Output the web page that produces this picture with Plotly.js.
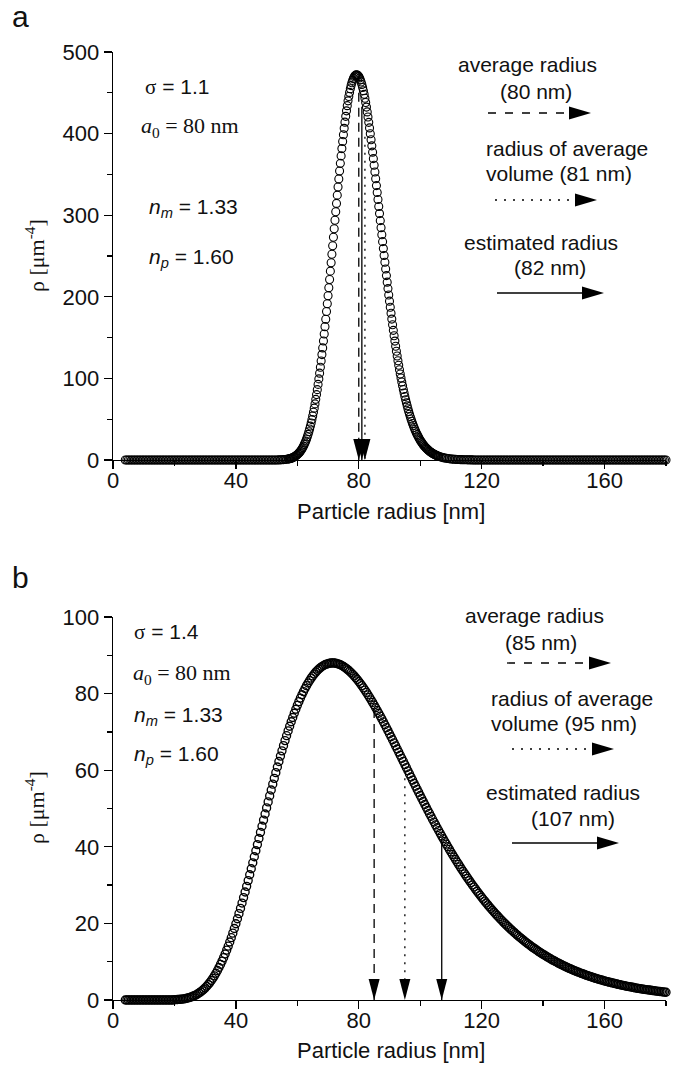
<!DOCTYPE html>
<html><head><meta charset="utf-8">
<script src="https://cdn.plot.ly/plotly-3.0.1.min.js"></script>
<style>html,body{margin:0;padding:0;background:#fff}#chart{width:677px;height:1068px}</style>
</head><body><div id="chart"></div>
<script>
// ---------- panel a (sigma = 1.1) ----------
const topRadius = [
4,4.5,5,5.5,6,6.5,7,7.5,8,8.5, 9,9.5,10,10.5,11,11.5,12,12.5,13,13.5,
14,14.5,15,15.5,16,16.5,17,17.5,18,18.5, 19,19.5,20,20.5,21,21.5,22,22.5,23,23.5,
24,24.5,25,25.5,26,26.5,27,27.5,28,28.5, 29,29.5,30,30.5,31,31.5,32,32.5,33,33.5,
34,34.5,35,35.5,36,36.5,37,37.5,38,38.5, 39,39.5,40,40.5,41,41.5,42,42.5,43,43.5,
44,44.5,45,45.5,46,46.5,47,47.5,48,48.5, 49,49.5,50,50.5,51,51.5,52,52.5,53,53.5,
54,54.5,55,55.5,56,56.5,
57,57.25,57.5,57.75,58,58.25,58.5,58.75, 59,59.25,59.5,59.75,60,60.25,60.5,60.75,
61,61.25,61.5,61.75,62,62.25,62.5,62.75, 63,63.25,63.5,63.75,64,64.25,64.5,64.75,
65,65.25,65.5,65.75,66,66.25,66.5,66.75, 67,67.25,67.5,67.75,68,68.25,68.5,68.75,
69,69.25,69.5,69.75,70,70.25,70.5,70.75, 71,71.25,71.5,71.75,72,72.25,72.5,72.75,
73,73.25,73.5,73.75,74,74.25,74.5,74.75, 75,75.25,75.5,75.75,76,76.25,76.5,76.75,
77,77.25,77.5,77.75,78,78.25,78.5,78.75, 79,79.25,79.5,79.75,80,80.25,80.5,80.75,
81,81.25,81.5,81.75,82,82.25,82.5,82.75, 83,83.25,83.5,83.75,84,84.25,84.5,84.75,
85,85.25,85.5,85.75,86,86.25,86.5,86.75, 87,87.25,87.5,87.75,88,88.25,88.5,88.75,
89,89.25,89.5,89.75,90,90.25,90.5,90.75, 91,91.25,91.5,91.75,92,92.25,92.5,92.75,
93,93.25,93.5,93.75,94,94.25,94.5,94.75, 95,95.25,95.5,95.75,96,96.25,96.5,96.75,
97,97.25,97.5,97.75,98,98.25,98.5,98.75, 99,99.25,99.5,99.75,100,100.25,100.5,100.75,
101,101.25,101.5,101.75,102,102.25,102.5,102.75, 103,103.25,103.5,103.75,104,104.25,104.5,104.75,
105,105.25,105.5,105.75,106,
106.5,107,107.5,108,108.5,109,109.5,110,110.5,111, 111.5,112,112.5,113,113.5,114,114.5,115,115.5,116,
116.5,117,117.5,118,118.5,119,119.5,120,120.5,121, 121.5,122,122.5,123,123.5,124,124.5,125,125.5,126,
126.5,127,127.5,128,128.5,129,129.5,130,130.5,131, 131.5,132,132.5,133,133.5,134,134.5,135,135.5,136,
136.5,137,137.5,138,138.5,139,139.5,140,140.5,141, 141.5,142,142.5,143,143.5,144,144.5,145,145.5,146,
146.5,147,147.5,148,148.5,149,149.5,150,150.5,151, 151.5,152,152.5,153,153.5,154,154.5,155,155.5,156,
156.5,157,157.5,158,158.5,159,159.5,160,160.5,161, 161.5,162,162.5,163,163.5,164,164.5,165,165.5,166,
166.5,167,167.5,168,168.5,169,169.5,170,170.5,171, 171.5,172,172.5,173,173.5,174,174.5,175,175.5,176,
176.5,177,177.5,178,178.5,179,179.5,180
];
const topRho = [
0,0,0,0,0,0,0,0,0,0, 0,0,0,0,0,0,0,0,0,0,
0,0,0,0,0,0,0,0,0,0, 0,0,0,0,0,0,0,0,0,0,
0,0,0,0,0,0,0,0,0,0, 0,0,0,0,0,0,0,0,0,0,
0,0,0,0,0,0,0,0,0,0, 0,0,0,0,0,0,0,0,0,0,
0,0,0,0,0,0,0,0,0,0, 0,0,0.01,0.01,0.01,0.02,0.03,0.04,0.06,0.09,
0.14,0.21,0.30,0.43,0.61,0.85,
1.18,1.38,1.62,1.88,2.19,2.53,2.93,3.37, 3.87,4.44,5.08,5.79,6.59,7.48,8.47,9.56,
10.77,12.11,13.58,15.20,16.97,18.91,21.02,23.31, 25.80,28.50,31.41,34.54,37.91,41.52,45.38,49.51,
53.91,58.58,63.53,68.76,74.30,80.12,86.24,92.66, 99.39,106.41,113.71,121.31,129.19,137.36,145.78,154.45,
163.40,172.55,181.94,191.50,201.28,211.20,221.27,231.45, 241.74,252.11,262.53,272.95,283.41,293.79,304.17,314.44,
324.60,334.61,344.46,354.10,363.54,372.70,381.64,390.25, 398.53,406.46,414.01,421.15,427.89,434.23,440.11,445.52,
450.46,454.89,458.85,462.28,465.20,467.61,469.49,470.85, 471.68,472.00,471.79,471.08,469.86,468.15,465.94,463.27,
460.13,456.55,452.54,448.11,443.27,438.06,432.49,426.57, 420.33,413.78,406.96,399.86,392.54,384.99,377.24,369.32,
361.24,353.02,344.69,336.26,327.76,319.19,310.59,301.97, 293.33,284.72,276.13,267.58,259.09,250.67,242.33,234.09,
225.96,217.93,210.03,202.27,194.64,187.17,179.84,172.68, 165.69,158.87,152.21,145.74,139.44,133.32,127.38,121.63,
116.06,110.66,105.45,100.42,95.57,90.89,86.38,82.05, 77.89,73.89,70.05,66.37,62.85,59.47,56.25,53.17,
50.22,47.41,44.74,42.19,39.76,37.45,35.26,33.17, 31.19,29.32,27.54,25.86,24.26,22.75,21.33,19.98,
18.71,17.51,16.38,15.32,14.31,13.37,12.48,11.65, 10.86,10.13,9.43,8.79,8.18,7.61,7.08,6.58,
6.12,5.68,5.27,4.89,4.54,
3.90,3.35,2.86,2.45,2.09,1.78,1.52,1.29,1.09,0.92, 0.78,0.66,0.56,0.47,0.40,0.33,0.28,0.23,0.19,0.16,
0.13,0.11,0.09,0.08,0.06,0.05,0.04,0.04,0.03,0.03, 0.02,0.02,0.02,0.01,0.01,0.01,0.01,0,0,0,
0,0,0,0,0,0,0,0,0,0, 0,0,0,0,0,0,0,0,0,0,
0,0,0,0,0,0,0,0,0,0, 0,0,0,0,0,0,0,0,0,0,
0,0,0,0,0,0,0,0,0,0, 0,0,0,0,0,0,0,0,0,0,
0,0,0,0,0,0,0,0,0,0, 0,0,0,0,0,0,0,0,0,0,
0,0,0,0,0,0,0,0,0,0, 0,0,0,0,0,0,0,0,0,0,
0,0,0,0,0,0,0,0
];
// reference radii drawn as vertical arrows and the height where each arrow starts
const topRefRadius = [80, 81, 82];
const topRefRho = [450, 433, 396];

// ---------- panel b (sigma = 1.4) ----------
const bottomRadius = [
4,4.5,5,5.5,6,6.5,7,7.5,8,8.5, 9,9.5,10,10.5,11,11.5,12,12.5,13,13.5,
14,14.5,15,15.5,16,16.5,17,17.5,18,18.5, 19,19.5,20,20.5,21,21.5,22,22.5,23,23.5,
24,24.5,25,25.5,26,26.5,27,27.5,28,28.5, 29,29.5,30,30.5,31,31.5,32,32.5,33,33.5,
34,34.5,35,35.5,36,36.5,37,37.5,38,38.5, 39,39.5,40,40.5,41,41.5,42,42.5,43,43.5,
44,44.5,45,45.5,46,46.5,47,47.5,48,48.5, 49,49.5,50,50.5,51,51.5,52,52.5,53,53.5,
54,54.5,55,55.5,56,56.5,57,57.5,58,58.5, 59,59.5,60,60.5,61,61.5,62,62.5,63,63.5,
64,64.5,65,65.5,66,66.5,67,67.5,68,68.5, 69,69.5,70,70.5,71,71.5,72,72.5,73,73.5,
74,74.5,75,75.5,76,76.5,77,77.5,78,78.5, 79,79.5,80,80.5,81,81.5,82,82.5,83,83.5,
84,84.5,85,85.5,86,86.5,87,87.5,88,88.5, 89,89.5,90,90.5,91,91.5,92,92.5,93,93.5,
94,94.5,95,95.5,96,96.5,97,97.5,98,98.5, 99,99.5,100,100.5,101,101.5,102,102.5,103,103.5,
104,104.5,105,105.5,106,106.5,107,107.5,108,108.5, 109,109.5,110,110.5,111,111.5,112,112.5,113,113.5,
114,114.5,115,115.5,116,116.5,117,117.5,118,118.5, 119,119.5,120,120.5,121,121.5,122,122.5,123,123.5,
124,124.5,125,125.5,126,126.5,127,127.5,128,128.5, 129,129.5,130,130.5,131,131.5,132,132.5,133,133.5,
134,134.5,135,135.5,136,136.5,137,137.5,138,138.5, 139,139.5,140,140.5,141,141.5,142,142.5,143,143.5,
144,144.5,145,145.5,146,146.5,147,147.5,148,148.5, 149,149.5,150,150.5,151,151.5,152,152.5,153,153.5,
154,154.5,155,155.5,156,156.5,157,157.5,158,158.5, 159,159.5,160,160.5,161,161.5,162,162.5,163,163.5,
164,164.5,165,165.5,166,166.5,167,167.5,168,168.5, 169,169.5,170,170.5,171,171.5,172,172.5,173,173.5,
174,174.5,175,175.5,176,176.5,177,177.5,178,178.5, 179,179.5,180
];
const bottomRho = [
0,0,0,0,0,0,0,0,0,0, 0,0,0,0,0,0,0,0,0,0,
0,0,0,0,0,0,0,0,0,0, 0,0,0.07,0.09,0.12,0.15,0.19,0.24,0.30,0.37,
0.46,0.56,0.68,0.81,0.97,1.14,1.34,1.57,1.83,2.11, 2.43,2.78,3.17,3.59,4.05,4.55,5.10,5.68,6.31,6.99,
7.71,8.48,9.29,10.15,11.06,12.01,13.01,14.05,15.14,16.27, 17.45,18.66,19.92,21.22,22.55,23.91,25.31,26.74,28.20,29.68,
31.18,32.71,34.26,35.82,37.39,38.98,40.57,42.17,43.77,45.37, 46.97,48.56,50.15,51.72,53.29,54.83,56.36,57.87,59.36,60.83,
62.27,63.68,65.06,66.41,67.73,69.01,70.26,71.47,72.64,73.77, 74.86,75.92,76.93,77.89,78.82,79.69,80.53,81.32,82.07,82.77,
83.42,84.03,84.60,85.12,85.60,86.03,86.41,86.76,87.06,87.32, 87.53,87.71,87.84,87.93,87.99,88.00,87.98,87.92,87.82,87.69,
87.52,87.32,87.09,86.82,86.52,86.20,85.84,85.46,85.05,84.62, 84.15,83.67,83.16,82.63,82.08,81.51,80.92,80.31,79.68,79.03,
78.37,77.70,77.01,76.31,75.59,74.87,74.13,73.39,72.63,71.87, 71.10,70.32,69.53,68.74,67.94,67.14,66.34,65.53,64.72,63.91,
63.10,62.29,61.47,60.66,59.84,59.03,58.22,57.41,56.60,55.80, 54.99,54.20,53.40,52.61,51.82,51.04,50.26,49.49,48.72,47.96,
47.21,46.46,45.71,44.97,44.24,43.52,42.80,42.09,41.39,40.69, 40.01,39.32,38.65,37.99,37.33,36.68,36.03,35.40,34.77,34.15,
33.54,32.94,32.34,31.75,31.18,30.60,30.04,29.49,28.94,28.40, 27.87,27.34,26.83,26.32,25.82,25.33,24.84,24.36,23.89,23.43,
22.98,22.53,22.09,21.66,21.23,20.81,20.40,20.00,19.60,19.21, 18.82,18.45,18.07,17.71,17.35,17.00,16.66,16.32,15.98,15.66,
15.34,15.02,14.71,14.41,14.11,13.82,13.53,13.25,12.98,12.70, 12.44,12.18,11.92,11.67,11.43,11.18,10.95,10.72,10.49,10.27,
10.05,9.84,9.63,9.42,9.22,9.02,8.83,8.64,8.45,8.27, 8.09,7.92,7.75,7.58,7.42,7.26,7.10,6.94,6.79,6.65,
6.50,6.36,6.22,6.09,5.95,5.82,5.69,5.57,5.45,5.33, 5.21,5.10,4.98,4.87,4.77,4.66,4.56,4.46,4.36,4.26,
4.17,4.08,3.99,3.90,3.81,3.73,3.64,3.56,3.48,3.41, 3.33,3.26,3.18,3.11,3.04,2.98,2.91,2.85,2.78,2.72,
2.66,2.60,2.54,2.48,2.43,2.37,2.32,2.27,2.22,2.17, 2.12,2.07,2.03
];
const bottomRefRadius = [85, 95, 107];
const bottomRefRho = [76, 60, 42];

// ---------- ticks ----------
const xTicks = [0, 40, 80, 120, 160];
const xMinorTicks = [20, 60, 100, 140, 180];
const topYTicks = [0, 100, 200, 300, 400, 500];
const topYMinor = [50, 150, 250, 350, 450];
const bottomYTicks = [0, 20, 40, 60, 80, 100];
const bottomYMinor = [10, 30, 50, 70, 90];

// ---------- layout helpers ----------
const W = 677, H = 1068;
const PX = v => v / W, PY = v => 1 - v / H;
const SANS = 'Liberation Sans, Arial, Helvetica, sans-serif';
const SERIF = 'Liberation Serif, Times New Roman, serif';
const INK = '#111';
const DASHED = '9px,6px', DOTTED = '2px,6px';
const topRefDash = [DASHED, 'solid', DOTTED];
const bottomRefDash = [DASHED, DOTTED, 'solid'];

const topMarker = {symbol: 'circle-open', size: 8, color: '#000', line: {width: 1.1, color: '#000'}};
const bottomMarker = {symbol: 'circle-open', size: 8, color: '#000', line: {width: 1.35, color: '#000'}};
const traces = [
  {x: topRadius, y: topRho, xaxis: 'x', yaxis: 'y', mode: 'markers', marker: topMarker, cliponaxis: false, hoverinfo: 'skip'},
  {x: bottomRadius, y: bottomRho, xaxis: 'x2', yaxis: 'y2', mode: 'markers', marker: bottomMarker, cliponaxis: false, hoverinfo: 'skip'}
];
const shapes = [];
function vArrow(xa, ya, r, top, dash) {
  traces.push({x: [r, r], y: [top, 0], xaxis: xa, yaxis: ya, mode: 'lines',
    line: {color: '#000', width: 1.3, dash: dash}, hoverinfo: 'skip', cliponaxis: false});
  shapes.push({type: 'path', xref: xa, yref: ya, xsizemode: 'pixel', ysizemode: 'pixel',
    xanchor: r, yanchor: 0, path: 'M 0 0 L -5.5 21 L 5.5 21 Z',
    fillcolor: '#000', line: {width: 0}, layer: 'above'});
}
topRefRadius.forEach((r, i) => vArrow('x', 'y', r, topRefRho[i], topRefDash[i]));
bottomRefRadius.forEach((r, i) => vArrow('x2', 'y2', r, bottomRefRho[i], bottomRefDash[i]));

function hArrow(x0, x1, xTip, y, dash) {
  shapes.push({type: 'line', xref: 'paper', yref: 'paper', x0: PX(x0), x1: PX(x1), y0: PY(y), y1: PY(y),
    line: {color: '#000', width: 1.3, dash: dash}});
  shapes.push({type: 'path', xref: 'paper', yref: 'paper',
    path: `M ${PX(x1)} ${PY(y - 6.5)} L ${PX(xTip)} ${PY(y)} L ${PX(x1)} ${PY(y + 6.5)} Z`,
    fillcolor: '#000', line: {width: 0}});
}
hArrow(488, 569, 591, 113, '8px,9px');
hArrow(495, 575, 597, 200, '2px,7px');
hArrow(497, 582, 604, 293, 'solid');
hArrow(507, 589, 611, 663, '8px,9px');
hArrow(512, 592, 614, 749, '2px,7px');
hArrow(512, 597, 619, 843, 'solid');

const ann = [];
function txt(text, x, y, opts) {
  ann.push(Object.assign({text: text, x: PX(x), y: PY(y), xref: 'paper', yref: 'paper',
    xanchor: 'center', yanchor: 'middle', showarrow: false,
    font: {family: SANS, size: 21, color: INK}}, opts || {}));
}
const sig = s => `<span style="font-family:Liberation Serif">σ</span> = ${s}`;
// panel labels
txt('a', 20, 17, {font: {family: SANS, size: 30, color: INK}});
txt('b', 20, 577, {font: {family: SANS, size: 30, color: INK}});
// panel a texts
txt(sig('1.1'), 143, 87, {xanchor: 'left'});
txt('<i>a</i><sub>0</sub> = 80 nm', 139, 127, {xanchor: 'left', font: {family: SERIF, size: 22, color: INK}});
txt('<i>n<sub>m</sub></i> = 1.33', 147, 208, {xanchor: 'left'});
txt('<i>n<sub>p</sub></i> = 1.60', 147, 258, {xanchor: 'left'});
txt('average radius', 527, 65);
txt('(80 nm)', 536, 91);
txt('radius of average', 484, 148, {xanchor: 'left'});
txt('volume (81 nm)', 484, 173, {xanchor: 'left'});
txt('estimated radius', 541, 243);
txt('(82 nm)', 550, 268);
// panel b texts
txt(sig('1.4'), 132, 632, {xanchor: 'left'});
txt('<i>a</i><sub>0</sub> = 80 nm', 131, 674, {xanchor: 'left', font: {family: SERIF, size: 22, color: INK}});
txt('<i>n<sub>m</sub></i> = 1.33', 132, 716, {xanchor: 'left'});
txt('<i>n<sub>p</sub></i> = 1.60', 132, 755, {xanchor: 'left'});
txt('average radius', 534, 615);
txt('(85 nm)', 541, 642);
txt('radius of average', 489, 698, {xanchor: 'left'});
txt('volume (95 nm)', 489, 723, {xanchor: 'left'});
txt('estimated radius', 563, 792);
txt('(107 nm)', 573, 818);
// axis titles
txt('Particle radius [nm]', 391, 511, {font: {family: SANS, size: 22, color: INK}});
txt('Particle radius [nm]', 391, 1050, {font: {family: SANS, size: 22, color: INK}});
txt('ρ [μm<sup>-4</sup>]', 35, 256, {textangle: -90, font: {family: SERIF, size: 22, color: INK}});
txt('ρ [μm<sup>-4</sup>]', 35, 808, {textangle: -90, font: {family: SERIF, size: 22, color: INK}});

function xAxis(anchor) {
  return {domain: [PX(113), PX(666)], range: [0, 180], anchor: anchor,
    tickmode: 'array', tickvals: xTicks, ticks: 'outside', ticklen: 8, tickwidth: 1.3, tickcolor: '#000',
    ticklabelstandoff: -8,
    showline: true, linecolor: '#000', linewidth: 1.3, showgrid: false, zeroline: false,
    tickfont: {family: SANS, size: 22, color: INK},
    minor: {tickmode: 'array', tickvals: xMinorTicks, ticks: 'outside', ticklen: 5, tickwidth: 1.3, tickcolor: '#000', showgrid: false},
    fixedrange: true};
}
function yAxis(anchor, dom, range, tv, mv) {
  return {domain: dom, range: range, anchor: anchor,
    tickmode: 'array', tickvals: tv, ticks: 'outside', ticklen: 8, tickwidth: 1.3, tickcolor: '#000',
    showline: true, linecolor: '#000', linewidth: 1.3, showgrid: false, zeroline: false,
    tickfont: {family: SANS, size: 22, color: INK},
    minor: {tickmode: 'array', tickvals: mv, ticks: 'outside', ticklen: 5, tickwidth: 1.3, tickcolor: '#000', showgrid: false},
    fixedrange: true};
}
const layout = {
  width: W, height: H, margin: {l: 0, r: 0, t: 0, b: 0},
  paper_bgcolor: '#fff', plot_bgcolor: 'rgba(0,0,0,0)', showlegend: false,
  xaxis: xAxis('y'),
  yaxis: yAxis('x', [PY(460), PY(52)], [0, 500], topYTicks, topYMinor),
  xaxis2: xAxis('y2'),
  yaxis2: yAxis('x2', [PY(1000), PY(617)], [0, 100], bottomYTicks, bottomYMinor),
  shapes: shapes, annotations: ann
};
Plotly.newPlot('chart', traces, layout, {staticPlot: true, displayModeBar: false});
</script>
</body></html>
